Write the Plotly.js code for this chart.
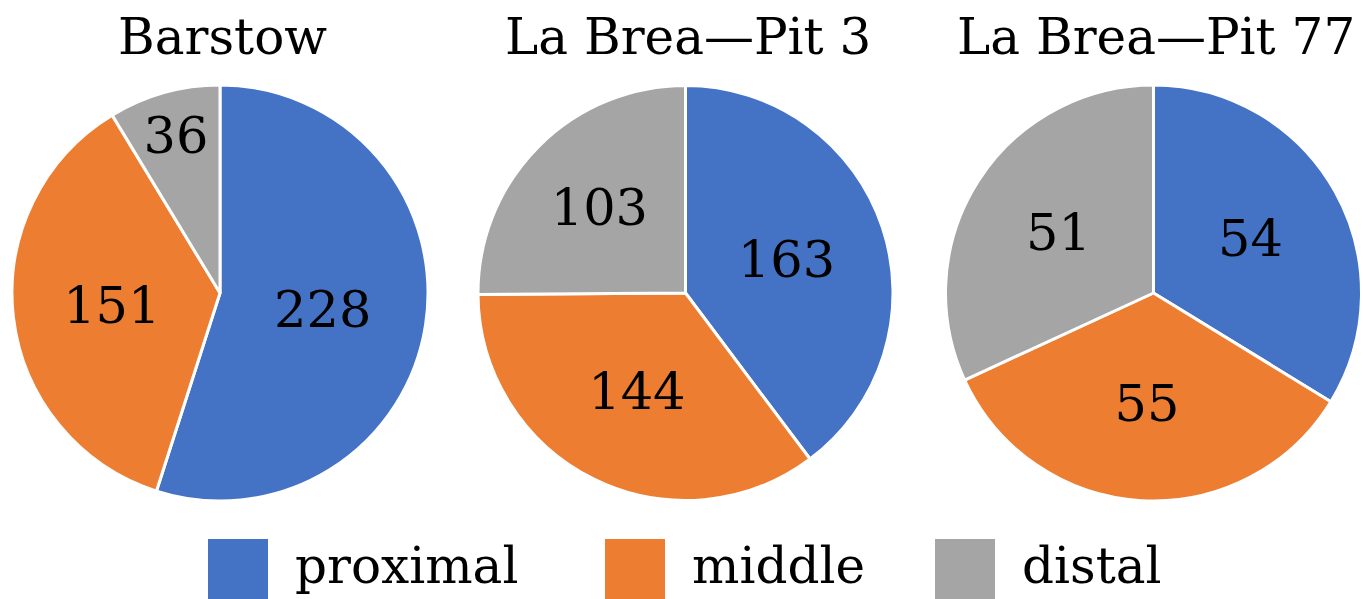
<!DOCTYPE html>
<html>
<head>
<meta charset="utf-8">
<script src="https://cdn.plot.ly/plotly-3.0.1.min.js"></script>
<style>html,body{margin:0;padding:0;background:#fff;}#chart{width:1363px;height:599px;}</style>
</head>
<body>
<div id="chart"></div>
<script>
const categories = ["proximal", "middle", "distal"];
const sites = ["Barstow", "La Brea\u2014Pit 3", "La Brea\u2014Pit 77"];
const barstowValues = [228, 151, 36];
const pit3Values = [163, 144, 103];
const pit77Values = [54, 55, 51];
const colors = ["#4472C4", "#ED7D31", "#A5A5A5"];

const W = 1363, H = 599;
const FONT = "DejaVu Serif, Liberation Serif, serif";
const seriesList = [barstowValues, pit3Values, pit77Values];
// pixel boxes for each pie [x0, x1]
const pieBoxes = [[12, 428], [478, 893], [945, 1362]];
const pieTop = 85, pieBottom = 501;

const traces = seriesList.map((vals, i) => ({
  type: "pie",
  labels: categories,
  values: vals,
  sort: false,
  direction: "clockwise",
  rotation: 0,
  textinfo: "value",
  textposition: "inside",
  insidetextorientation: "horizontal",
  textfont: {family: FONT, size: 51, color: "#000"},
  marker: {colors: colors, line: {color: "#fff", width: 3}},
  domain: {x: [pieBoxes[i][0] / W, pieBoxes[i][1] / W], y: [1 - pieBottom / H, 1 - pieTop / H]},
  showlegend: false,
  hoverinfo: "label+value"
}));

const annotations = [];
const shapes = [];
sites.forEach((s, i) => {
  const cx = (pieBoxes[i][0] + pieBoxes[i][1]) / 2;
  annotations.push({
    xref: "paper", yref: "paper", x: (cx + 2) / W, y: 1 - 37 / H,
    xanchor: "center", yanchor: "middle", showarrow: false,
    text: s, font: {family: FONT, size: 50, color: "#000"}
  });
});
// manual legend
const legendSquares = [208, 605, 935];
legendSquares.forEach((x0, i) => {
  shapes.push({
    type: "rect", xref: "paper", yref: "paper",
    x0: x0 / W, x1: (x0 + 60) / W, y0: 1 - 599 / H, y1: 1 - 539 / H,
    fillcolor: colors[i], line: {width: 0}
  });
  annotations.push({
    xref: "paper", yref: "paper", x: (x0 + 85) / W, y: 1 - 566 / H,
    xanchor: "left", yanchor: "middle", showarrow: false,
    text: categories[i], font: {family: FONT, size: 50, color: "#000"}
  });
});

const layout = {
  width: W, height: H,
  margin: {l: 0, r: 0, t: 0, b: 0},
  paper_bgcolor: "#fff",
  annotations: annotations,
  shapes: shapes
};

Plotly.newPlot("chart", traces, layout, {displayModeBar: false, staticPlot: true});
</script>
</body>
</html>
